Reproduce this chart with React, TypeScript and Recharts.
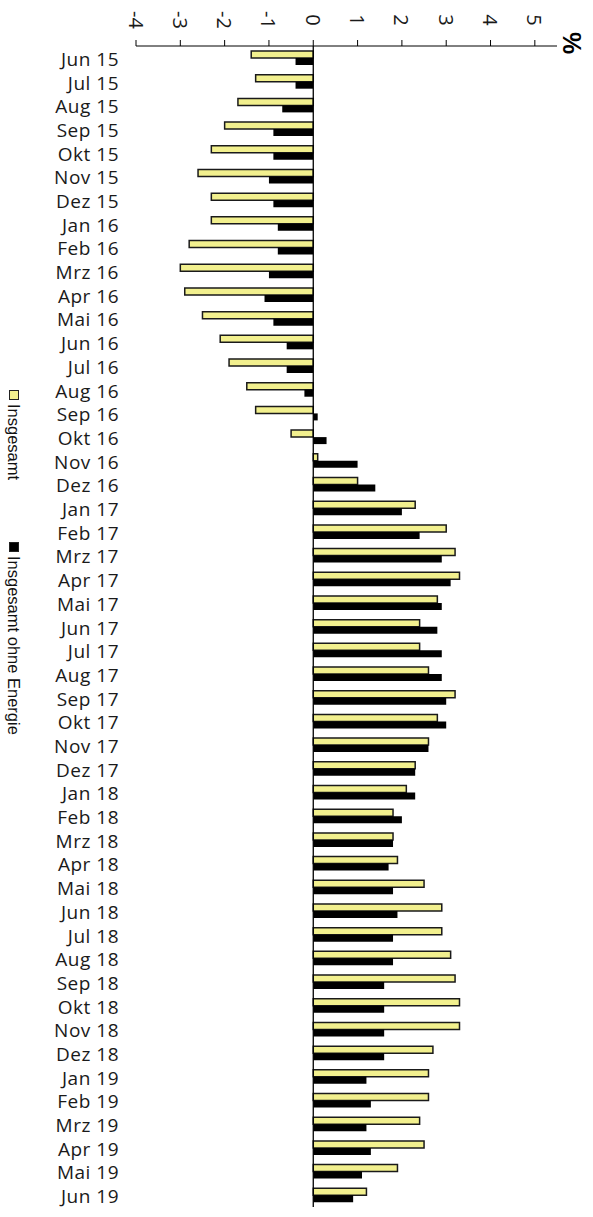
import React from 'react';
import { BarChart, Bar, XAxis, YAxis, ReferenceLine, Legend } from 'recharts';

const months = [
  'Jun 15', 'Jul 15', 'Aug 15', 'Sep 15', 'Okt 15', 'Nov 15', 'Dez 15',
  'Jan 16', 'Feb 16', 'Mrz 16', 'Apr 16', 'Mai 16', 'Jun 16', 'Jul 16', 'Aug 16', 'Sep 16', 'Okt 16', 'Nov 16', 'Dez 16',
  'Jan 17', 'Feb 17', 'Mrz 17', 'Apr 17', 'Mai 17', 'Jun 17', 'Jul 17', 'Aug 17', 'Sep 17', 'Okt 17', 'Nov 17', 'Dez 17',
  'Jan 18', 'Feb 18', 'Mrz 18', 'Apr 18', 'Mai 18', 'Jun 18', 'Jul 18', 'Aug 18', 'Sep 18', 'Okt 18', 'Nov 18', 'Dez 18',
  'Jan 19', 'Feb 19', 'Mrz 19', 'Apr 19', 'Mai 19', 'Jun 19',
];

const insgesamt = [
  -1.4, -1.3, -1.7, -2.0, -2.3, -2.6, -2.3,
  -2.3, -2.8, -3.0, -2.9, -2.5, -2.1, -1.9, -1.5, -1.3, -0.5, 0.1, 1.0,
  2.3, 3.0, 3.2, 3.3, 2.8, 2.4, 2.4, 2.6, 3.2, 2.8, 2.6, 2.3,
  2.1, 1.8, 1.8, 1.9, 2.5, 2.9, 2.9, 3.1, 3.2, 3.3, 3.3, 2.7,
  2.6, 2.6, 2.4, 2.5, 1.9, 1.2,
];

const ohneEnergie = [
  -0.4, -0.4, -0.7, -0.9, -0.9, -1.0, -0.9,
  -0.8, -0.8, -1.0, -1.1, -0.9, -0.6, -0.6, -0.2, 0.1, 0.3, 1.0, 1.4,
  2.0, 2.4, 2.9, 3.1, 2.9, 2.8, 2.9, 2.9, 3.0, 3.0, 2.6, 2.3,
  2.3, 2.0, 1.8, 1.7, 1.8, 1.9, 1.8, 1.8, 1.6, 1.6, 1.6, 1.6,
  1.2, 1.3, 1.2, 1.3, 1.1, 0.9,
];

const xTicks = [-4, -3, -2, -1, 0, 1, 2, 3, 4, 5];
const seriesNames = ['Insgesamt', 'Insgesamt ohne Energie'];
const unitLabel = '%';

const data = months.map((m, i) => ({ month: m, a: insgesamt[i], b: ohneEnergie[i] }));

const YELLOW = '#F2F08E';
const LABEL_FONT = '"Open Sans", "Noto Sans", sans-serif';

const YTick = (props: any) => {
  const { x, y, payload } = props;
  return (
    <text
      x={x}
      y={y + 1}
      textAnchor="end"
      dominantBaseline="central"
      fontFamily={LABEL_FONT}
      fontSize={19}
      letterSpacing={0.5}
      fill="#1a1a1a"
    >
      {payload.value}
    </text>
  );
};

const XTick = (props: any) => {
  const { x, payload } = props;
  return (
    <text
      x={0}
      y={0}
      transform={`translate(${x}, 20) rotate(90)`}
      textAnchor="middle"
      dominantBaseline="central"
      fontFamily={LABEL_FONT}
      fontSize={20}
      fill="#1a1a1a"
    >
      {payload.value}
    </text>
  );
};

const PercentLabel = (props: any) => {
  const { viewBox } = props;
  const x = viewBox.x + viewBox.width + 15;
  const y = viewBox.y + viewBox.height - 3;
  return (
    <text
      transform={`translate(${x}, ${y}) rotate(90)`}
      textAnchor="middle"
      dominantBaseline="central"
      fontFamily='"Liberation Sans", Arial, sans-serif'
      fontWeight="bold"
      fontSize={25}
      fill="#000"
    >
      {unitLabel}
    </text>
  );
};

const renderLegend = (props: any) => {
  const { payload } = props;
  return (
    <div style={{ position: 'relative', width: 30, height: 400 }}>
      {payload.map((entry: any, i: number) => (
        <div
          key={entry.value}
          style={{
            position: 'absolute',
            left: 4,
            top: i === 0 ? 2 : 154,
            writingMode: 'vertical-rl',
            fontFamily: '"Liberation Sans", Arial, sans-serif',
            fontSize: 16.5,
            color: '#111',
            display: 'flex',
            alignItems: 'center',
            whiteSpace: 'nowrap',
          }}
        >
          <span
            style={{
              display: 'inline-block',
              width: 8,
              height: 8,
              background: entry.color,
              border: '1px solid #222',
              marginBottom: 4,
            }}
          />
          <span>{entry.value}</span>
        </div>
      ))}
    </div>
  );
};

export default function App() {
  return (
    <div style={{ position: 'absolute', left: 0, top: 0, width: 593, height: 1217, background: '#fff' }}>
      <BarChart
        width={593}
        height={1217}
        data={data}
        layout="vertical"
        margin={{ top: 0, right: 36, bottom: 10, left: 0 }}
        barGap={0}
        barSize={7}
      >
        <XAxis
          type="number"
          orientation="top"
          domain={[-4, 5.5]}
          ticks={xTicks}
          allowDataOverflow
          height={46}
          tickSize={6}
          stroke="#000"
          tick={<XTick />}
          label={<PercentLabel />}
          interval={0}
        />
        <YAxis
          type="category"
          dataKey="month"
          width={136}
          axisLine={false}
          tickLine={false}
          tickSize={0}
          tickMargin={17}
          interval={0}
          tick={<YTick />}
        />
        <Legend
          layout="vertical"
          align="center"
          verticalAlign="middle"
          content={renderLegend}
          wrapperStyle={{ position: 'absolute', left: 0, top: 388, width: 30, height: 400 }}
        />
        <Bar dataKey="a" name={seriesNames[0]} fill={YELLOW} stroke="#1a1a1a" strokeWidth={1.5} isAnimationActive={false} />
        <Bar dataKey="b" name={seriesNames[1]} fill="#000" isAnimationActive={false} />
        <ReferenceLine x={0} stroke="#000" strokeWidth={1.3} />
      </BarChart>
    </div>
  );
}
